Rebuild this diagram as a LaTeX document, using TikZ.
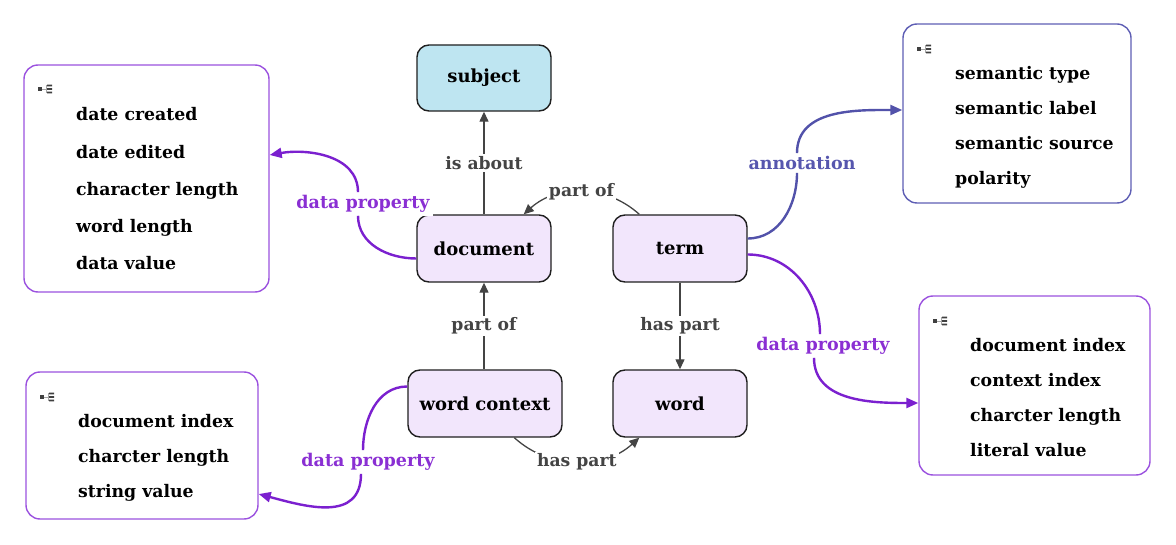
\documentclass[tikz,border=0pt]{standalone}
\usepackage{fontspec}
\setmainfont{DejaVu Serif}
\usetikzlibrary{arrows.meta}

\definecolor{subjfill}{HTML}{BEE5F1}
\definecolor{entfill}{HTML}{F2E6FC}
\definecolor{edgegray}{HTML}{444444}
\definecolor{dpline}{HTML}{7B20CF}
\definecolor{dptext}{HTML}{8A2FD3}
\definecolor{anline}{HTML}{5252AA}
\definecolor{antext}{HTML}{5656AE}
\definecolor{boxpurple}{HTML}{9B52DF}
\definecolor{boxblue}{HTML}{5E5EB4}

\tikzset{
  listicon/.pic={
    \draw[black!35, line width=0.6pt] (4,5) -- (8,5) (8,1.5) -- (8,8.5)
      (8,1.5) -- (9,1.5) (8,8.5) -- (9,8.5);
    \fill[black!75] (0,3) rectangle (4,7);
    \fill[black!75] (9,0.6) rectangle (14,2.4) (9,4.1) rectangle (14,5.9)
      (9,7.6) rectangle (14,9.4);
  }
}

\begin{document}
\begin{tikzpicture}[x=1pt,y=-1pt,
  ent/.style={draw=black!88, line width=1.4pt, rounded corners=12pt,
    fill=entfill, minimum width=134pt, minimum height=67pt, inner sep=0pt,
    font=\bfseries\fontsize{18}{21}\selectfont},
  propbox/.style={line width=1.4pt, rounded corners=14pt, fill=white, inner sep=0pt},
  item/.style={anchor=base west, inner sep=0pt,
    font=\bfseries\fontsize{17.3}{20}\selectfont},
  glabel/.style={fill=white, text=edgegray, inner sep=2pt,
    font=\bfseries\fontsize{17.2}{20}\selectfont},
  dplbl/.style={fill=white, text=dptext, inner sep=3pt,
    font=\bfseries\fontsize{17.5}{20}\selectfont},
  anlbl/.style={fill=white, text=antext, inner sep=3pt,
    font=\bfseries\fontsize{17.5}{20}\selectfont},
  gedge/.style={draw=edgegray, line width=1.3pt,
    -{Triangle[length=10pt,width=9pt]}},
  dp/.style={draw=dpline, line width=2.4pt},
  an/.style={draw=anline, line width=2.4pt},
  tipdp/.style={-{Triangle[length=12pt,width=10pt]}},
]
\useasboundingbox (0,0) rectangle (1176,545);

% entity nodes
\node[ent, fill=subjfill, minimum height=66pt] (subj) at (484,78) {subject};
\node[ent] (doc)  at (484,248.5) {document};
\node[ent] (term) at (680,248.5) {term};
\node[ent, minimum width=154pt] (wc) at (485,403.5) {word context};
\node[ent] (word) at (680,403.5) {word};

% property boxes
\node[propbox, draw=boxpurple, minimum width=245pt, minimum height=227pt] (boxA) at (146.5,178.5) {};
\node[propbox, draw=boxblue, minimum width=228pt, minimum height=179pt] (boxB) at (1017,113.5) {};
\node[propbox, draw=boxpurple, minimum width=231pt, minimum height=179pt] (boxC) at (1034.5,385.5) {};
\node[propbox, draw=boxpurple, minimum width=232pt, minimum height=147pt] (boxD) at (142,445.5) {};

\pic at (38,84) {listicon};
\pic at (917,44) {listicon};
\pic at (933,316) {listicon};
\pic at (40,392) {listicon};

\foreach \t [count=\i] in {date created, date edited, character length, word length, data value}
  \node[item] (itemA\i) at (76,{121+37.2*(\i-1)}) {\t};
\foreach \t [count=\i] in {semantic type, semantic label, semantic source, polarity}
  \node[item] (itemB\i) at (955,{80+34.7*(\i-1)}) {\t};
\foreach \t [count=\i] in {document index, context index, charcter length, literal value}
  \node[item] (itemC\i) at (970,{352+34.7*(\i-1)}) {\t};
\foreach \t [count=\i] in {document index, charcter length, string value}
  \node[item] (itemD\i) at (78,{428+34.5*(\i-1)}) {\t};

% object relations
\draw[gedge] (doc) -- node[glabel] {is about} (subj);
\draw[gedge] (wc.north -| doc.south) -- node[glabel] {part of} (doc.south);
\draw[gedge] (term) -- node[glabel] {has part} (word);
\draw[gedge] ([xshift=27pt]term.north west) to[bend right=42]
  node[glabel] {part of} ([xshift=-28pt]doc.north east);
\draw[gedge] ([xshift=107pt]wc.south west) to[bend right=42]
  node[glabel] {has part} ([xshift=27pt]word.south west);

% data property and annotation links
\node[dplbl] (dl1) at (363,204) {data property};
\node[anlbl] (al)  at (802,163) {annotation};
\node[dplbl] (dl3) at (823,346) {data property};
\node[dplbl] (dl4) at (368,462) {data property};

\draw[dp] ([yshift=-10pt]doc.west) to[out=180,in=-90] ([xshift=-5pt]dl1.south);
\draw[dp, tipdp] ([xshift=-5pt]dl1.north) to[out=90,in=10] ([yshift=23.5pt]boxA.east);

\draw[an] ([yshift=10pt]term.east) to[out=0,in=-90] ([xshift=-5pt]al.south);
\draw[an, tipdp] ([xshift=-5pt]al.north) to[out=90,in=180] ([yshift=3.5pt]boxB.west);

\draw[dp] ([yshift=-6pt]term.east) to[out=0,in=90] ([xshift=-3pt]dl3.north);
\draw[dp, tipdp] ([xshift=-9pt]dl3.south) to[out=-90,in=180] ([yshift=-17.5pt]boxC.west);

\draw[dp] ([yshift=17pt]wc.west) to[out=180,in=90] ([xshift=-5pt]dl4.north);
\draw[dp, tipdp] ([xshift=-7pt]dl4.south) to[out=-90,in=-15,looseness=1.2] ([yshift=-48.5pt]boxD.east);
\end{tikzpicture}
\end{document}
